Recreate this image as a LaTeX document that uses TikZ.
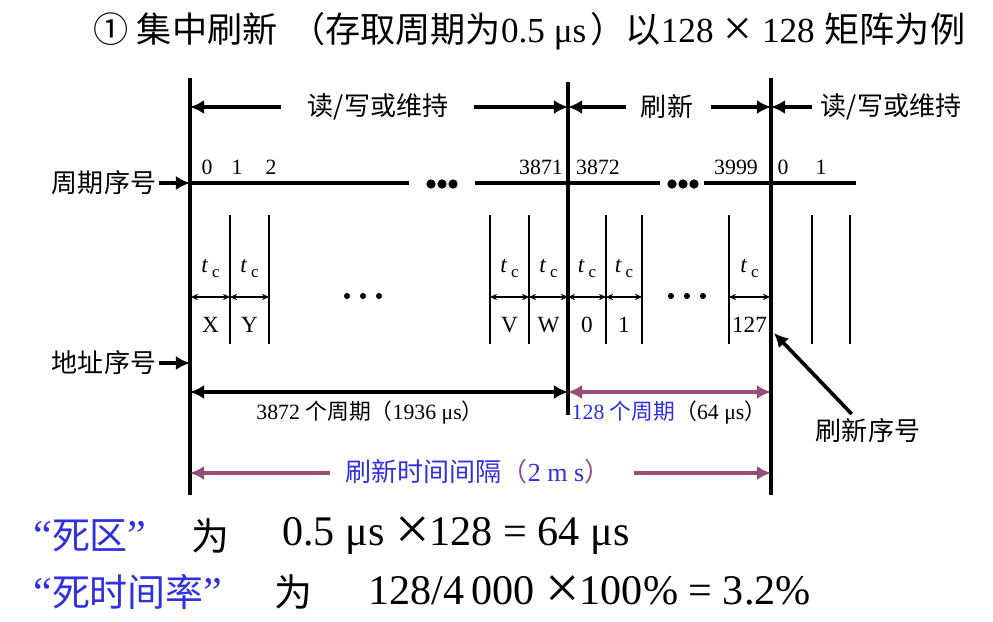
\documentclass[tikz,border=0pt]{standalone}
\usepackage{fontspec}
\setmainfont{Liberation Serif}
\newfontfamily\cjk{Noto Sans CJK SC}
\usetikzlibrary{arrows.meta}
\definecolor{plum}{RGB}{150,78,115}
\definecolor{ink}{RGB}{48,48,225}
\newcommand{\tcyc}{\textit{t}\,\raisebox{-.45ex}{\fontsize{12}{12}\selectfont c}}
\newcommand{\bigtimes}{\raisebox{-.1em}{\scalebox{1.45}{×}}}

\begin{document}
\begin{tikzpicture}[x=0.025cm,y=-0.025cm,
	vbar/.style={line width=2.4pt},
	slotline/.style={line width=1.3pt},
	lab/.style={font=\cjk\fontsize{18.5}{20}\selectfont},
	num/.style={font=\fontsize{15.5}{17}\selectfont},
	cellfont/.style={font=\fontsize{16.5}{18}\selectfont},
	note/.style={font=\fontsize{15.5}{17}\selectfont},
	bigtxt/.style={font=\fontsize{30}{32}\selectfont,inner sep=0pt},
	bigzh/.style={font=\cjk\fontsize{27}{30}\selectfont,inner sep=0pt},
	fat/.style={-{Latex[length=10pt,width=10pt]},line width=2.6pt},
	gauge/.style={{Latex[length=10pt,width=10pt]}-{Latex[length=10pt,width=10pt]},line width=2.6pt},
	tcarr/.style={{Stealth[length=5pt,width=4.5pt]}-{Stealth[length=5pt,width=4.5pt]},line width=0.9pt}]
	
	\fill[white] (0,0) rectangle (993,622);
	\useasboundingbox (0,0) rectangle (993,622);
	
	\node[anchor=west,inner sep=0pt,font=\fontsize{25}{28}\selectfont] (title) at (93,31)
	{{\cjk ①\hspace{6pt}集中刷新\hspace{9pt}（存取周期为}0.5 μs\hspace{3pt}{\cjk ）以}128\hspace{7pt}\bigtimes\hspace{7pt}128\hspace{7pt}{\cjk 矩阵为例}};
	
	\coordinate (l1t) at (190,78);
	\coordinate (l1b) at (190,495);
	\coordinate (l2t) at (568,82);
	\coordinate (l2b) at (568,415);
	\coordinate (l3t) at (771,78);
	\coordinate (l3b) at (771,495);
	\draw[vbar] (l1t) -- (l1b);
	\draw[vbar] (l2t) -- (l2b);
	\draw[vbar] (l3t) -- (l3b);
	
	\node[lab] (rw1) at (378,107) {读/写或维持};
	\node[lab] (rf1) at (667,107) {刷新};
	\node[lab] (rw2) at (891,107) {读/写或维持};
	\coordinate (a1) at (281,107);
	\coordinate (a1h) at (190,107);
	\coordinate (a2) at (474,107);
	\coordinate (a2h) at (568,107);
	\coordinate (a3) at (626,107);
	\coordinate (a4) at (711,107);
	\coordinate (a4h) at (771,107);
	\coordinate (a5) at (812,107);
	\draw[fat] (a1) -- (a1h);
	\draw[fat] (a2) -- (a2h);
	\draw[fat] (a3) -- (a2h);
	\draw[fat] (a4) -- (a4h);
	\draw[fat] (a5) -- (a4h);
	
	\node[lab,inner xsep=2pt] (zq) at (104,183) {周期序号};
	\node[lab,inner xsep=2pt] (dz) at (104,363) {地址序号};
	\coordinate (zqh) at (190,183);
	\coordinate (dzh) at (190,363);
	\draw[fat] (zq) -- (zqh);
	\draw[fat] (dz) -- (dzh);
	
	\coordinate (c1) at (409,183);
	\coordinate (c2) at (475,183);
	\coordinate (c3) at (660,183);
	\coordinate (c4) at (704,183);
	\coordinate (c5) at (856,183);
	\draw[line width=2.6pt] (zqh) -- (c1);
	\draw[line width=2.6pt] (c2) -- (c3);
	\draw[line width=2.6pt] (c4) -- (c5);
	\fill (431,184) circle[radius=3.3pt] (442,184) circle[radius=3.3pt] (453,184) circle[radius=3.3pt];
	\fill (672,184) circle[radius=3.3pt] (683,184) circle[radius=3.3pt] (694,184) circle[radius=3.3pt];
	
	\node[num] (n0) at (207,167) {0};
	\node[num] (n1) at (237,167) {1};
	\node[num] (n2) at (271,167) {2};
	\node[num] (n3871) at (541,167) {3871};
	\node[num] (n3872) at (598,167) {3872};
	\node[num] (n3999) at (736,167) {3999};
	\node[num] (m0) at (783,167) {0};
	\node[num] (m1) at (821,167) {1};
	
	\draw[slotline] (230,215) -- (230,344);
	\draw[slotline] (269,215) -- (269,344);
	\draw[slotline] (490,215) -- (490,344);
	\draw[slotline] (529,215) -- (529,344);
	\draw[slotline] (606,215) -- (606,344);
	\draw[slotline] (642,215) -- (642,344);
	\draw[slotline] (729,215) -- (729,344);
	\draw[slotline] (812,215) -- (812,344);
	\draw[slotline] (850,215) -- (850,344);
	
	\coordinate (p0) at (191,297);
	\coordinate (p1) at (230,297);
	\coordinate (p2) at (269,297);
	\coordinate (p3) at (490,297);
	\coordinate (p4) at (529,297);
	\coordinate (p5) at (568,297);
	\coordinate (p6) at (606,297);
	\coordinate (p7) at (642,297);
	\coordinate (p8) at (729,297);
	\coordinate (p9) at (770,297);
	\path[tcarr] (p0) edge node[cellfont,yshift=0.72cm] {\tcyc} node[cellfont,yshift=-0.7cm] {X} (p1);
	\path[tcarr] (p1) edge node[cellfont,yshift=0.72cm] {\tcyc} node[cellfont,yshift=-0.7cm] {Y} (p2);
	\path[tcarr] (p3) edge node[cellfont,yshift=0.72cm] {\tcyc} node[cellfont,yshift=-0.7cm] {V} (p4);
	\path[tcarr] (p4) edge node[cellfont,yshift=0.72cm] {\tcyc} node[cellfont,yshift=-0.7cm] {W} (p5);
	\path[tcarr] (p5) edge node[cellfont,yshift=0.72cm] {\tcyc} node[cellfont,yshift=-0.7cm] {0} (p6);
	\path[tcarr] (p6) edge node[cellfont,yshift=0.72cm] {\tcyc} node[cellfont,yshift=-0.7cm] {1} (p7);
	\path[tcarr] (p8) edge node[cellfont,yshift=0.72cm] {\tcyc} node[cellfont,yshift=-0.7cm] {127} (p9);
	\fill (347,296) circle[radius=2.2pt] (363,296) circle[radius=2.2pt] (379,296) circle[radius=2.2pt];
	\fill (671,296) circle[radius=2.2pt] (687,296) circle[radius=2.2pt] (703,296) circle[radius=2.2pt];
	
	\node[lab] (rx) at (868,431) {刷新序号};
	\coordinate (rxh) at (774,333);
	\draw[fat] (rx) -- (rxh);
	
	\coordinate (g1) at (190,392);
	\coordinate (g2) at (568,392);
	\coordinate (g3) at (771,392);
	\draw[gauge] (g1) -- (g2);
	\draw[gauge,plum] (g2) -- (g3);
	\node[note] (t1) at (370,413) {3872 {\cjk 个周期（}1936 μs{\cjk ）}};
	\node[note] (t2) at (669,413) {{\color{ink}128 {\cjk 个周期}}{\cjk （}64 μs{\cjk ）}};
	
	\node[lab,ink] (jg) at (478,472) {刷新时间间隔{\color{plum}（}{\rmfamily 2 m s}{\color{plum}）}};
	\coordinate (q1) at (330,473);
	\coordinate (q1h) at (190,473);
	\coordinate (q2) at (634,473);
	\coordinate (q2h) at (771,473);
	\draw[fat,plum,line width=3pt] (q1) -- (q1h);
	\draw[fat,plum,line width=3pt] (q2) -- (q2h);
	
	\node[bigtxt,anchor=west,ink] (sq) at (33,536) {“{\cjk\fontsize{27}{30}\selectfont 死区}”};
	\node[bigzh] (sqw) at (210,536) {为};
	\node[bigtxt,anchor=west] (sqf) at (282,536) {0.5 μs \bigtimes128 = 64 μs};
	\node[bigtxt,anchor=west,ink] (sl) at (33,592) {“{\cjk\fontsize{27}{30}\selectfont 死时间率}”};
	\node[bigzh] (slw) at (293,592) {为};
	\node[bigtxt,anchor=west] (slf) at (368,592) {128/4\hspace{5pt}000 \bigtimes100\% = 3.2\%};
	
\end{tikzpicture}
\end{document}
